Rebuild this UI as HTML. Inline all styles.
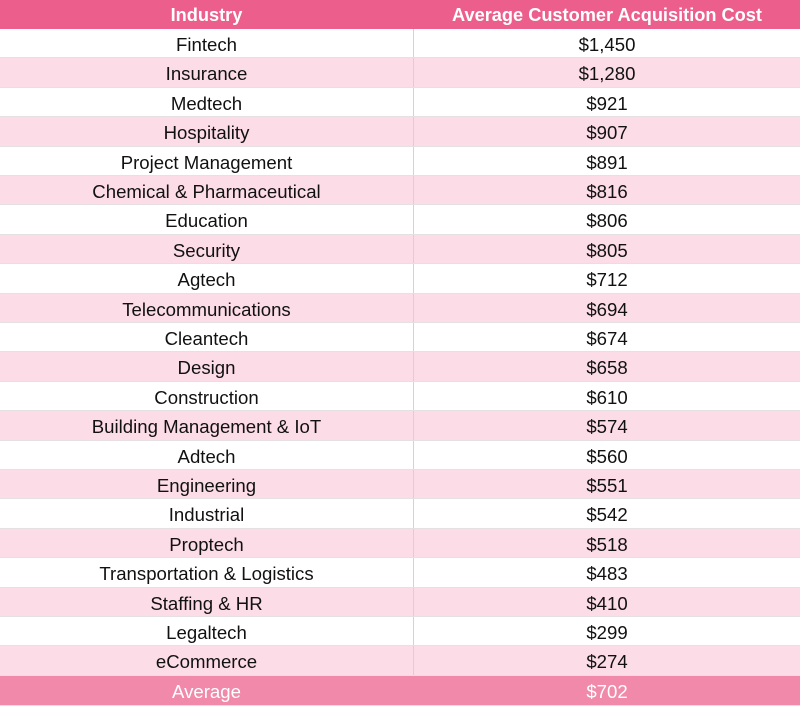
<!DOCTYPE html>
<html><head><style>
body{margin:0;width:800px;height:707px;background:#fff;font-family:"Liberation Sans",Arial,sans-serif;overflow:hidden;position:relative}
.r{position:absolute;left:0;width:800px;height:29.4px;border-bottom:1px solid #e6e0e2;box-sizing:border-box;font-size:18.6px;color:#111}
.r div{position:absolute;top:0;height:100%;line-height:31px;text-align:center}
.a{left:0;width:413px;border-right:1px solid #d8d0d3}
.b{left:414px;width:386px}
.p{background:#fcdce7}
.h{background:#ec5f8c;color:#fff;font-weight:bold;top:0;height:29px;border:none;font-size:18.2px}
.h div{line-height:30px}
.h .a{border-right:none}
.v{background:#f089aa;color:#fff;height:30px}
.v .a{border-right:none}
</style></head><body>
<div class="r h"><div class="a">Industry</div><div class="b">Average Customer Acquisition Cost</div></div>
<div class="r" style="top:29px"><div class="a">Fintech</div><div class="b">$1,450</div></div>
<div class="r p" style="top:58.4px"><div class="a">Insurance</div><div class="b">$1,280</div></div>
<div class="r" style="top:87.8px"><div class="a">Medtech</div><div class="b">$921</div></div>
<div class="r p" style="top:117.2px"><div class="a">Hospitality</div><div class="b">$907</div></div>
<div class="r" style="top:146.6px"><div class="a">Project Management</div><div class="b">$891</div></div>
<div class="r p" style="top:176px"><div class="a">Chemical &amp; Pharmaceutical</div><div class="b">$816</div></div>
<div class="r" style="top:205.4px"><div class="a">Education</div><div class="b">$806</div></div>
<div class="r p" style="top:234.8px"><div class="a">Security</div><div class="b">$805</div></div>
<div class="r" style="top:264.2px"><div class="a">Agtech</div><div class="b">$712</div></div>
<div class="r p" style="top:293.6px"><div class="a">Telecommunications</div><div class="b">$694</div></div>
<div class="r" style="top:323px"><div class="a">Cleantech</div><div class="b">$674</div></div>
<div class="r p" style="top:352.4px"><div class="a">Design</div><div class="b">$658</div></div>
<div class="r" style="top:381.8px"><div class="a">Construction</div><div class="b">$610</div></div>
<div class="r p" style="top:411.2px"><div class="a">Building Management &amp; IoT</div><div class="b">$574</div></div>
<div class="r" style="top:440.6px"><div class="a">Adtech</div><div class="b">$560</div></div>
<div class="r p" style="top:470px"><div class="a">Engineering</div><div class="b">$551</div></div>
<div class="r" style="top:499.4px"><div class="a">Industrial</div><div class="b">$542</div></div>
<div class="r p" style="top:528.8px"><div class="a">Proptech</div><div class="b">$518</div></div>
<div class="r" style="top:558.2px"><div class="a">Transportation &amp; Logistics</div><div class="b">$483</div></div>
<div class="r p" style="top:587.6px"><div class="a">Staffing &amp; HR</div><div class="b">$410</div></div>
<div class="r" style="top:617px"><div class="a">Legaltech</div><div class="b">$299</div></div>
<div class="r p" style="top:646.4px"><div class="a">eCommerce</div><div class="b">$274</div></div>
<div class="r v" style="top:676px"><div class="a">Average</div><div class="b">$702</div></div>
</body></html>
